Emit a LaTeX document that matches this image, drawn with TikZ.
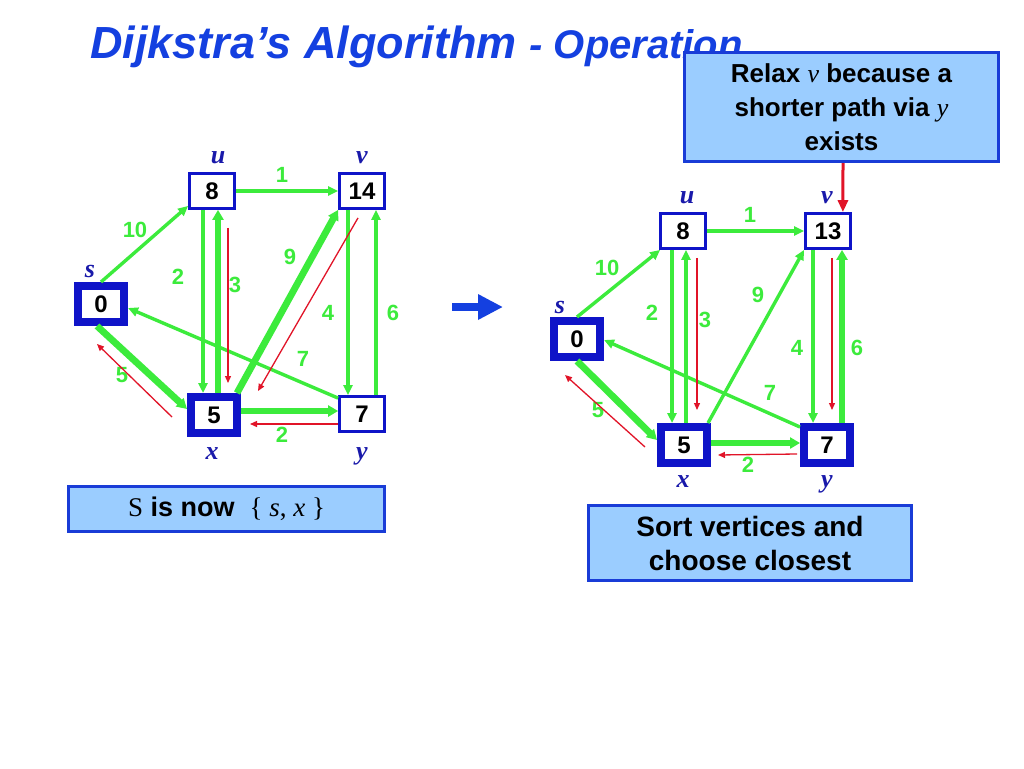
\documentclass[tikz,border=0pt]{standalone}
\usepackage{fontspec}
\setmainfont{Liberation Sans}
\newfontfamily\serifx{Liberation Serif}
\usetikzlibrary{arrows.meta,calc}
\definecolor{gr}{RGB}{60,235,60}
\definecolor{rd}{RGB}{225,20,40}
\definecolor{nb}{RGB}{15,20,200}
\definecolor{lb}{RGB}{25,25,170}
\definecolor{tb}{RGB}{20,64,224}
\definecolor{bxfill}{RGB}{155,205,255}
\definecolor{bxline}{RGB}{25,60,215}
\begin{document}
\begin{tikzpicture}[x=1pt,y=-1pt,
  vbox/.style={draw=nb,line width=2.8pt,fill=white,minimum width=45pt,minimum height=35pt,inner sep=0pt,font=\fontsize{24}{24}\selectfont\bfseries},
  sbox/.style={vbox,line width=8pt,minimum width=46pt,minimum height=36pt},
  vlab/.style={text=lb,font=\fontsize{26}{26}\selectfont\serifx\bfseries\itshape,inner sep=0pt},
  wlab/.style={text=gr,font=\fontsize{22}{22}\selectfont\bfseries,inner sep=0pt},
  ge/.style={draw=gr,line width=3.4pt,-{Triangle[length=10pt,width=9pt]}},
  gt/.style={draw=gr,line width=6.8pt,-{Triangle[length=10pt,width=11pt]}},
  re/.style={draw=rd,line width=1.3pt,-{Triangle[length=7pt,width=6pt]}},
  tbox/.style={draw=bxline,line width=3pt,fill=bxfill,inner sep=0pt,align=center,font=\fontsize{26}{34}\selectfont\bfseries},
]
\useasboundingbox (0,0) rectangle (1024,768);
\fill[white] (0,0) rectangle (1024,768);

% title
\node[anchor=base west,inner sep=0pt,text=tb,font=\bfseries\itshape] (title) at (90,59)
  {\fontsize{45}{48}\selectfont Dijkstra’s Algorithm \fontsize{40}{42}\selectfont - Operation};

% ---------- left graph ----------
\node[sbox] (s1) at (101,304) {0};
\node[vbox] (u1) at (212,191) {8};
\node[vbox] (v1) at (362,191) {14};
\node[sbox] (x1) at (214,415) {5};
\node[vbox] (y1) at (362,414) {7};

\node[vlab] (ls1) at (90,271) {s};
\node[vlab] (lu1) at (218,158) {u};
\node[vlab] (lv1) at (362,158) {v};
\node[vlab] (lx1) at (212,454) {x};
\node[vlab] (ly1) at (362,456) {y};

\draw[ge] (s1.north) -- ($(u1.south west)+(0,-4)$);
\draw[ge] (u1.east) -- (v1.west);
\draw[ge] ($(u1.south)+(-9,0)$) -- ($(x1.north)+(-11,0)$);
\draw[gt] ($(x1.north)+(4,0)$) -- ($(u1.south)+(6,0)$);
\draw[gt] ($(x1.north east)+(-4,0)$) -- (v1.south west);
\draw[ge] ($(v1.south)+(-14,0)$) -- ($(y1.north)+(-14,0)$);
\draw[ge] ($(y1.north)+(14,0)$) -- ($(v1.south)+(14,0)$);
\draw[ge] ($(y1.north west)+(0,3)$) -- ($(s1.east)+(0,4)$);
\draw[gt] ($(s1.south)+(-4,0)$) -- ($(x1.west)+(0,-6)$);
\draw[gt] ($(x1.east)+(0,-4)$) -- ($(y1.west)+(0,-3)$);

\node[wlab] (w10a) at (135,230) {10};
\node[wlab] (w1a) at (282,175) {1};
\node[wlab] (w2a) at (178,277) {2};
\node[wlab] (w3a) at (235,285) {3};
\node[wlab] (w9a) at (290,257) {9};
\node[wlab] (w4a) at (328,313) {4};
\node[wlab] (w6a) at (393,313) {6};
\node[wlab] (w7a) at (303,359) {7};
\node[wlab] (w5a) at (122,375) {5};
\node[wlab] (w2b) at (282,435) {2};

\draw[re] ($(u1.south)+(16,18)$) -- ($(x1.north)+(14,-10)$);
\draw[re] ($(v1.south)+(-4,8)$) -- ($(x1.north east)+(17,-2)$);
\draw[re] ($(x1.west)+(-15,2)$) -- ($(s1.south)+(-4,18)$);
\draw[re] ($(y1.west)+(0,10)$) -- ($(x1.east)+(9,9)$);

% boxes
\node[tbox,minimum width=316pt,minimum height=45pt,font=\fontsize{27}{30}\selectfont\bfseries] (sbox1) at (226.5,509)
  {{\serifx\mdseries S} is now\ \ {\serifx\mdseries \{ \textit{s}, \textit{x} \}}};

% middle arrow
\coordinate (ba) at (452,307);
\coordinate (bb) at (503,307);
\draw[draw=tb,line width=8pt,-{Triangle[length=25pt,width=24pt]}] (ba) -- (bb);

% ---------- right graph ----------
\node[sbox] (s2) at (577,339) {0};
\node[vbox] (u2) at (683,231) {8};
\node[vbox] (v2) at (828,231) {13};
\node[sbox] (x2) at (684,445) {5};
\node[sbox] (y2) at (827,445) {7};

\node[vlab] (ls2) at (560,307) {s};
\node[vlab] (lu2) at (687,198) {u};
\node[vlab] (lv2) at (827,198) {v};
\node[vlab] (lx2) at (683,482) {x};
\node[vlab] (ly2) at (827,484) {y};

\draw[ge] (s2.north) -- ($(u2.south west)+(1,0)$);
\draw[ge] (u2.east) -- (v2.west);
\draw[ge] ($(u2.south)+(-11,0)$) -- ($(x2.north)+(-12,0)$);
\draw[ge] ($(x2.north)+(2,0)$) -- ($(u2.south)+(3,0)$);
\draw[ge] ($(x2.north east)+(-3,0)$) -- (v2.south west);
\draw[ge] ($(v2.south)+(-15,0)$) -- ($(y2.north)+(-14,0)$);
\draw[gt] ($(y2.north)+(15,0)$) -- ($(v2.south)+(14,0)$);
\draw[ge] ($(y2.north west)+(0,4)$) -- ($(s2.east)+(0,1)$);
\draw[gt] (s2.south) -- ($(x2.west)+(0,-5)$);
\draw[gt] ($(x2.east)+(0,-2)$) -- ($(y2.west)+(0,-2)$);

\node[wlab] (w10c) at (607,268) {10};
\node[wlab] (w1c) at (750,215) {1};
\node[wlab] (w2c) at (652,313) {2};
\node[wlab] (w3c) at (705,320) {3};
\node[wlab] (w9c) at (758,295) {9};
\node[wlab] (w4c) at (797,348) {4};
\node[wlab] (w6c) at (857,348) {6};
\node[wlab] (w7c) at (770,393) {7};
\node[wlab] (w5c) at (598,410) {5};
\node[wlab] (w2d) at (748,465) {2};

\draw[re] ($(u2.south)+(14,8)$) -- ($(x2.north)+(13,-13)$);
\draw[re] ($(v2.south)+(4,8)$) -- ($(y2.north)+(5,-13)$);
\draw[re] ($(x2.west)+(-12,2)$) -- ($(s2.south)+(-12,14)$);
\draw[re] ($(y2.west)+(-3,9)$) -- ($(x2.east)+(7,10)$);

\node[tbox,minimum width=323pt,minimum height=75pt,font=\fontsize{28}{34}\selectfont\bfseries] (sortbox) at (750,543)
  {Sort vertices and\\ choose closest};

% callout
\node[tbox,minimum width=314pt,minimum height=109pt] (callout) at (841.5,107)
  {Relax {\serifx\mdseries\itshape v} because a\\shorter path via {\serifx\mdseries\itshape y}\\exists};
\draw[draw=rd,line width=3pt,-{Triangle[length=12pt,width=10pt]}] ($(callout.south)+(1.5,0)$) -- ($(v2.north east)+(-9,0)$);
\end{tikzpicture}
\end{document}
